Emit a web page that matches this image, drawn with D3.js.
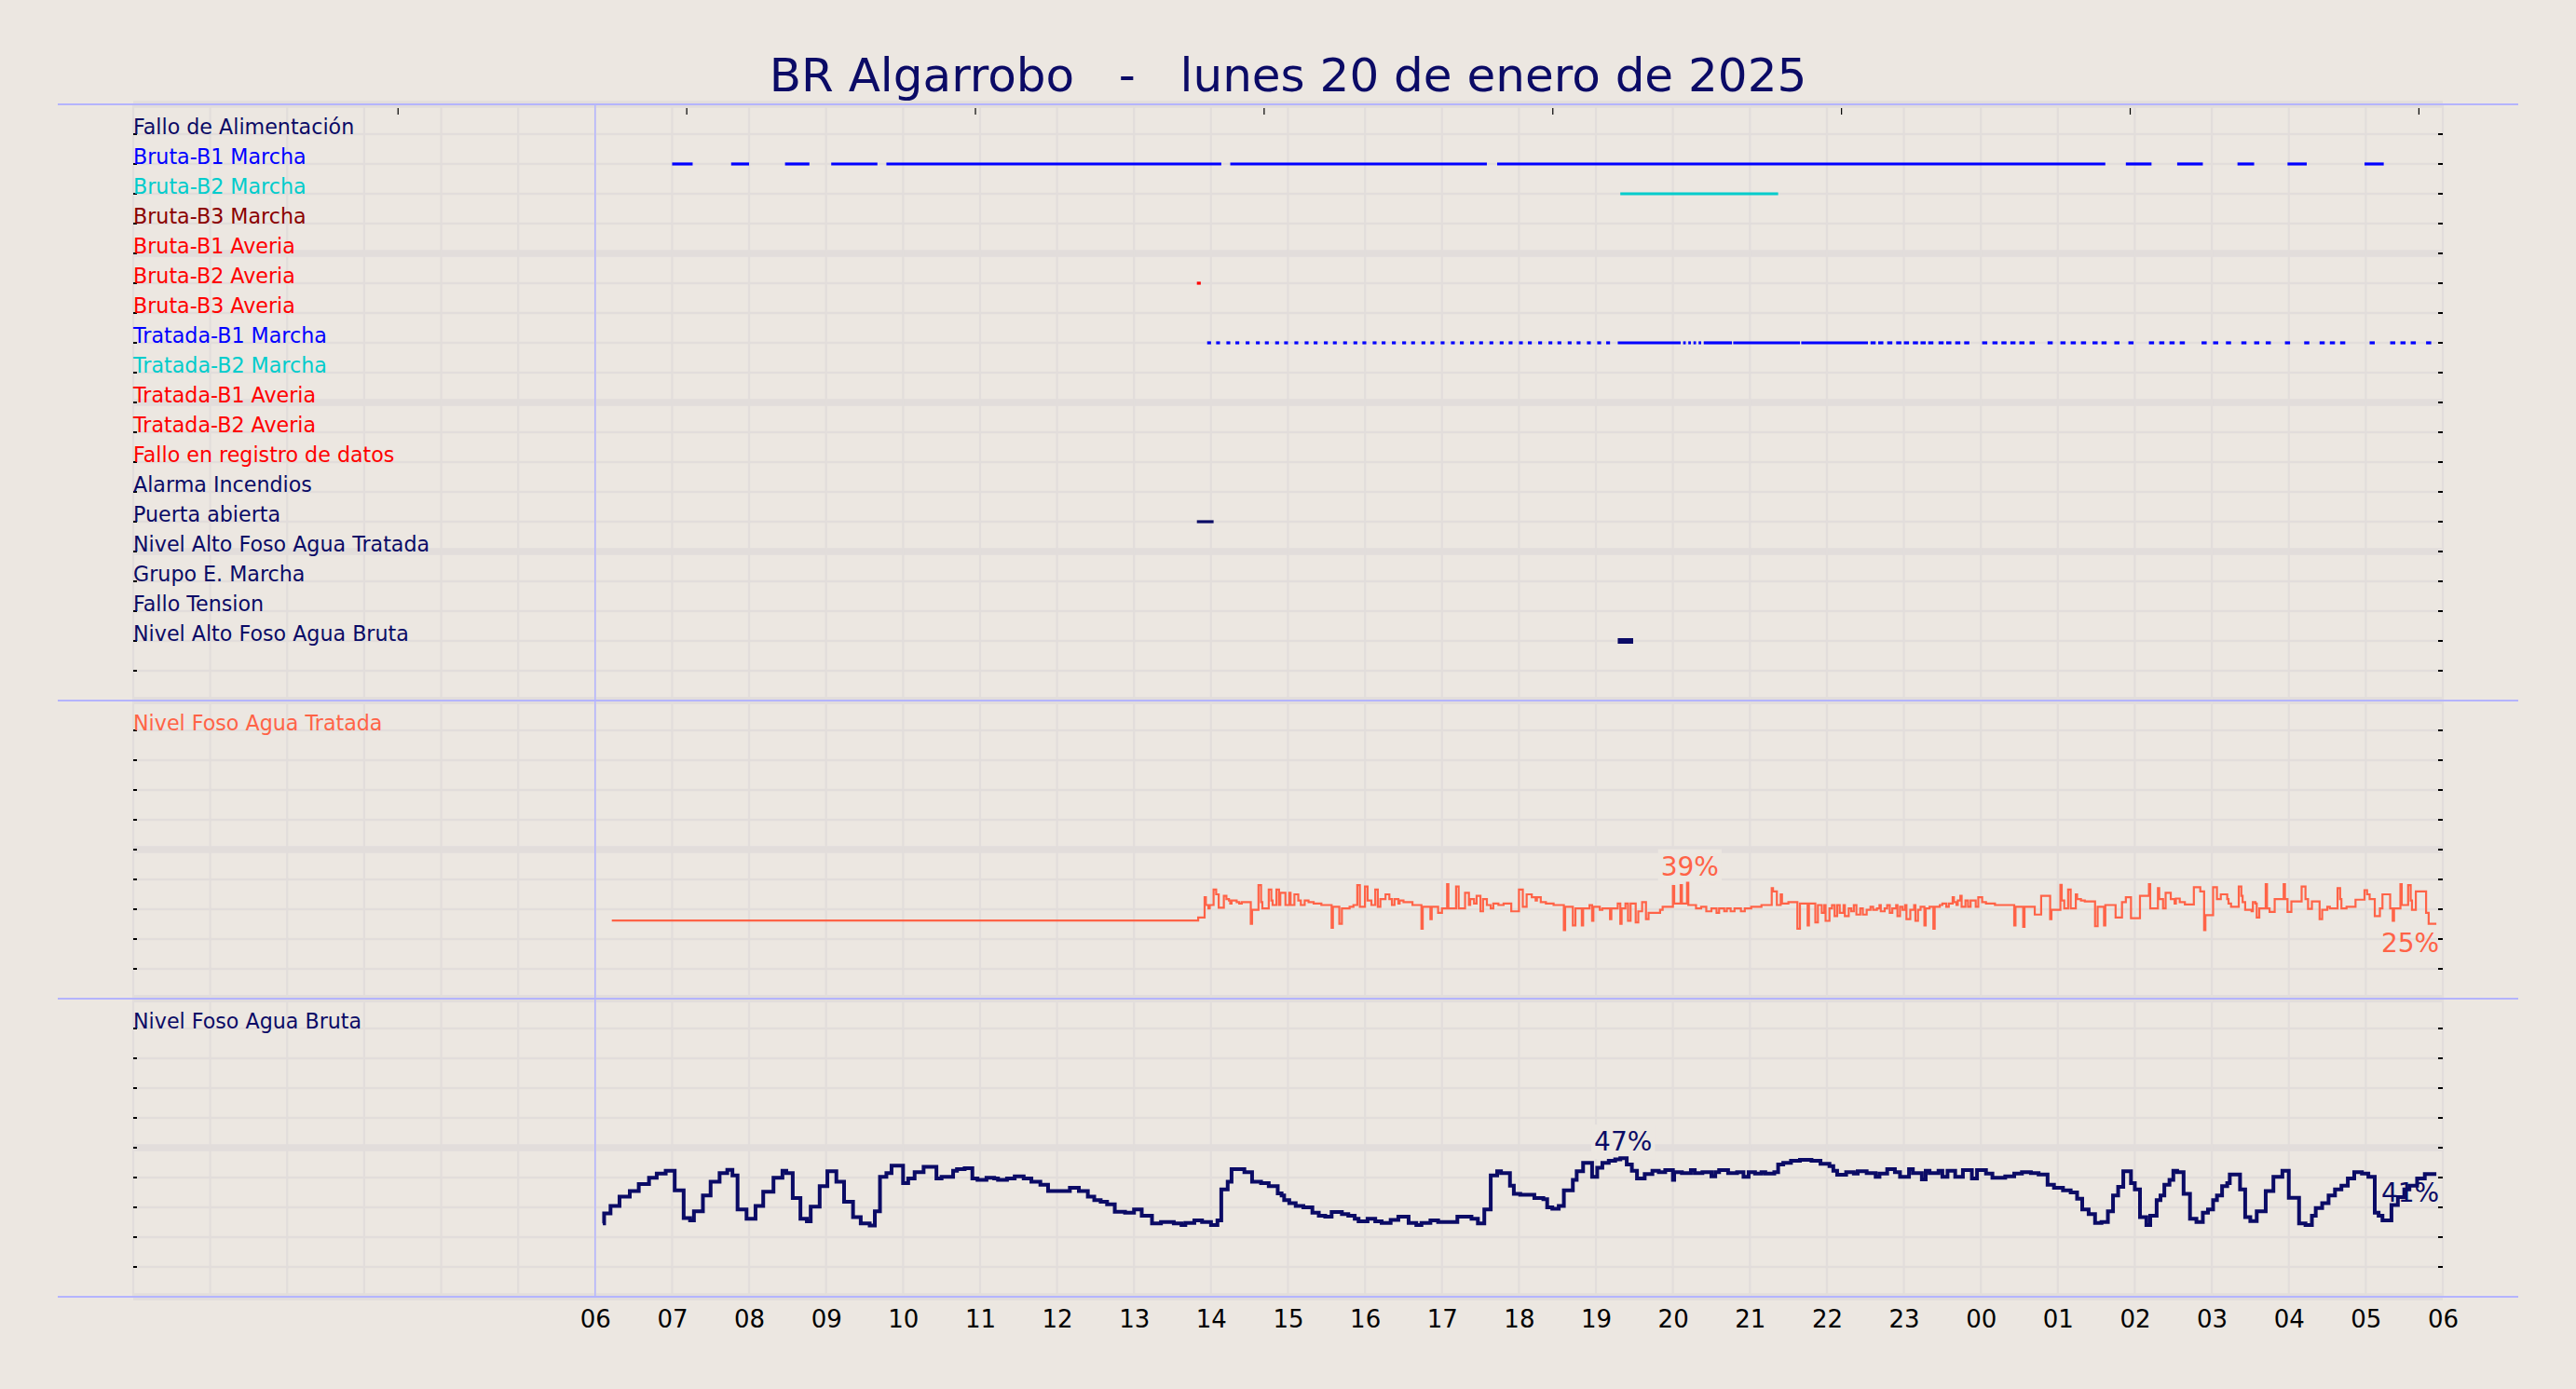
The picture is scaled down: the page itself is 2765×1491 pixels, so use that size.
<!DOCTYPE html>
<html><head><meta charset="utf-8">
<script src="https://cdn.jsdelivr.net/npm/d3@7"></script>
<style>
html,body{margin:0;padding:0;background:#ece7e1;}
svg{display:block;}
text{font-family:"DejaVu Sans";}
</style>
</head><body><svg id="chart"></svg>
<script>
// ---------------- DATA ----------------
const titleText = "BR Algarrobo   -   lunes 20 de enero de 2025";

const rowLabels = ["Fallo de Alimentación","Bruta-B1 Marcha","Bruta-B2 Marcha","Bruta-B3 Marcha",
  "Bruta-B1 Averia","Bruta-B2 Averia","Bruta-B3 Averia","Tratada-B1 Marcha","Tratada-B2 Marcha",
  "Tratada-B1 Averia","Tratada-B2 Averia","Fallo en registro de datos","Alarma Incendios",
  "Puerta abierta","Nivel Alto Foso Agua Tratada","Grupo E. Marcha","Fallo Tension","Nivel Alto Foso Agua Bruta"];
const rowColors = ["#0b0b66","#0000ff","#00cccc","#8b0000","#ff0000","#ff0000","#ff0000","#0000ff","#00cccc",
  "#ff0000","#ff0000","#ff0000","#0b0b66","#0b0b66","#0b0b66","#0b0b66","#0b0b66","#0b0b66"];

const hourLabels = ["06","07","08","09","10","11","12","13","14","15","16","17","18","19","20","21","22","23","00","01","02","03","04","05","06"];
const topTickHours = [3.44, 7.19, 10.94, 14.69, 18.44, 22.19, 25.94, 29.69];

// on/off intervals, minutes from 00:00 of the day
const brutaB1Marcha = [[420,436],[466,480],[508,527],[544,580],[587,848],[855,1055],[1063,1537],[1553,1573],[1593,1613],[1640,1653],[1679,1694],[1739,1754]];
const brutaB2Marcha = [[1159,1282]];
const brutaB2Averia = [[829,832]];
const tratadaB1Marcha = [[837,840],[844,847],[852,855],[859,862],[867,870],[875,878],[882,885],[890,893],[897,900],[905,908],
  [913,916],[920,923],[928,931],[935,938],[943,946],[951,954],[958,961],[966,969],[973,976],[981,984],[989,992],[996,999],
  [1004,1007],[1011,1014],[1019,1022],[1027,1030],[1034,1037],[1042,1045],[1049,1052],[1057,1060],[1065,1068],[1072,1075],
  [1080,1083],[1087,1090],[1095,1098],[1103,1106],[1110,1113],[1118,1121],[1125,1128],[1133,1136],[1141,1144],[1148,1151],
  [1157,1206],[1208,1210],[1212,1214],[1216,1218],[1220,1222],[1224,1246],[1247,1299],[1300,1352],
  [1354,1358],[1360,1364],[1367,1371],[1374,1378],[1380,1384],[1387,1391],[1393,1397],[1399,1403],[1407,1411],[1413,1417],
  [1420,1424],[1427,1431],[1441,1445],[1449,1453],[1456,1460],[1463,1467],[1470,1474],[1478,1482],[1492,1496],[1502,1506],
  [1510,1514],[1518,1522],[1527,1531],[1534,1538],[1544,1548],[1555,1559],[1571,1575],[1579,1583],[1587,1591],[1595,1599],
  [1612,1616],[1621,1625],[1631,1635],[1643,1647],[1653,1657],[1662,1666],[1677,1681],[1692,1696],[1704,1708],[1712,1716],
  [1720,1724],[1743,1747],[1759,1763],[1767,1771],[1775,1779],[1787,1791]];
const puertaAbierta = [[829,842]];
const nivelAltoBruta = [[1157,1169]];

// Nivel Foso Agua Tratada (%), step series: minute, value
const tratadaMin = [373,830,835,836,838,839,842,844,846,850,852,854,855,856,860,862,864,871,872,877,879,880,885,887,888,891,893,894,898,901,902,905,908,910,913,916,920,926,934,935,940,942,948,951,954,956,960,962,965,968,970,972,976,979,981,983,986,987,990,997,
 1004,1005,1011,1012,1017,1020,1024,1025,1031,1033,1038,1041,1042,1045,1047,1050,1052,1055,1058,1060,1064,1068,1074,1080,1083,1086,1090,1093,1094,1097,1101,1107,1115,1116,1122,1124,1129,1130,1135,1137,1138,1143,1145,1151,1152,1157,1159,1160,1163,1165,1167,1171,1173,1176,1179,1181,1190,1192,1200,1201,1206,1207,1211,1212,1218,1222,1226,1230,1234,1236,1240,1242,1245,1248,1253,1256,1261,1269,1277,1278,1281,1284,1285,1290,1297,1299,1305,1306,1311,1313,
 1316,1318,1319,1322,1324,1326,1328,1330,1333,1334,1337,1339,1341,1343,1346,1348,1351,1354,1356,1359,1361,1362,1365,1367,1369,1371,1374,1375,1377,1379,1381,1382,1385,1388,1389,1391,1393,1396,1397,1400,1403,1404,1408,1410,1413,1415,1418,1419,1421,1422,1424,1425,1428,1430,1432,1436,1438,1441,1444,1451,1466,1467,1473,1474,1482,1487,1494,1495,1502,1503,1505,1508,1510,1514,1515,1518,1521,1529,1531,1536,1537,1545,1550,1553,1557,1564,1571,1572,1578,1579,1582,1584,1588,1591,1592,1595,1599,1606,1611,1614,1615,1621,1624,1627,1632,1633,1635,1641,1643,1644,1646,1651,1652,1654,1655,1657,1662,1663,1665,1669,1676,1677,1679,1682,1690,1693,1695,1698,1704,1706,1710,1712,1718,1720,1721,1725,1732,1739,1741,1743,1747,1751,1753,1759,1761,1762,1767,1768,1773,1775,1776,1779,1787,1789,1795];
const tratadaVal = [26.2,27.2,34.0,31.4,30.3,31.4,36.6,35.0,30.5,34.5,33.4,32.9,31.9,32.9,32.4,31.9,32.4,25.1,29.8,38.1,32.4,30.3,36.6,32.9,31.4,36.6,31.4,35.5,31.4,35.5,31.4,35.0,32.9,31.4,32.9,32.4,31.9,31.4,23.8,30.8,25.1,30.3,30.8,31.4,38.1,30.8,37.6,32.9,31.4,36.6,30.8,33.4,35.0,33.4,31.4,33.4,31.9,32.9,32.4,31.4,
 23.5,30.8,26.7,30.8,28.8,30.3,38.4,30.3,37.6,30.3,35.5,31.4,33.4,31.9,34.5,29.3,33.4,31.4,30.3,31.9,31.4,31.9,29.3,36.6,30.8,35.0,34.0,32.9,34.0,32.4,31.9,31.4,23.0,30.8,24.6,30.3,24.6,30.3,31.4,26.1,30.8,29.8,30.3,26.7,30.3,31.9,25.1,30.3,31.9,26.1,31.9,25.6,29.3,32.4,26.7,28.8,29.8,30.8,37.8,31.9,38.1,31.9,38.9,31.4,30.3,30.8,29.3,30.3,28.8,30.3,29.3,30.3,29.3,30.3,29.3,30.3,30.8,31.4,37.1,36.0,31.4,35.0,31.9,32.4,23.5,31.9,24.6,31.9,25.6,31.4,
 28.8,31.4,26.1,30.3,31.4,27.7,31.4,28.8,31.4,27.7,30.3,29.3,31.4,28.2,30.3,28.2,29.8,30.8,29.8,30.3,31.4,29.3,30.3,31.4,28.8,30.3,31.4,27.7,30.8,29.8,31.4,26.7,29.8,31.4,26.1,29.8,30.8,24.6,30.3,30.8,23.5,30.8,31.4,31.9,30.8,31.9,34.0,32.4,31.4,32.9,34.5,30.8,32.9,30.8,32.9,30.8,34.0,32.4,31.9,31.4,24.6,30.8,24.1,30.8,28.2,34.5,26.7,29.8,38.2,32.9,30.3,36.6,30.3,35.0,33.4,32.9,32.6,24.3,30.8,24.6,31.4,27.2,32.4,34.0,27.0,34.5,38.4,30.3,37.1,33.4,30.3,35.5,33.4,31.9,33.6,32.4,31.6,37.4,36.0,23.0,28.0,37.4,33.4,35.0,33.4,31.9,30.8,37.6,34.5,32.4,29.8,29.3,32.4,31.9,27.2,30.3,38.4,30.3,29.1,33.4,38.4,33.4,29.1,32.6,37.6,33.4,30.1,32.6,26.7,29.8,30.8,30.3,37.1,33.4,30.3,30.8,33.2,36.4,35.0,33.4,27.7,30.3,35.0,30.3,26.1,30.3,38.4,31.4,38.1,32.9,29.8,36.0,28.8,25.1,25.1];

// Nivel Foso Agua Bruta (%), step series: minute, value
const brutaMin = [366,367,372,379,387,394,402,408,415,422,429,434,437,444,450,457,463,467,471,478,485,491,499,506,509,514,520,525,528,535,541,548,554,561,567,574,578,582,587,591,600,604,609,616,626,630,639,642,648,654,658,665,671,674,681,687,694,700,707,713,730,737,744,749,754,759,765,773,780,786,794,801,811,817,820,827,833,840,845,848,853,856,866,872,879,885,892,895,
 897,901,906,912,919,924,929,934,942,947,952,955,962,968,973,980,986,994,1000,1004,1011,1017,1032,1043,1048,1053,1058,1063,1066,1073,1076,1081,1092,1099,1102,1106,1111,1115,1122,1125,1130,1137,1141,1145,1150,1155,1159,1164,1168,1172,1178,1184,1189,1194,1200,1201,1207,1214,1217,1223,1230,1233,1236,1243,1250,1255,1259,1264,1269,1272,1279,1282,1286,1292,1299,1308,1315,1322,1325,1328,1335,1341,1344,1351,1358,1361,1367,1373,1377,1384,1387,1394,1397,1400,1407,1410,1414,1420,1426,1433,1437,1444,1449,1459,1466,1472,1479,1485,1492,1497,1504,1510,1515,1519,1524,1529,1534,1539,1543,1547,1551,1557,1560,1564,1569,1572,1577,1580,1583,1587,1590,1593,1598,1603,1608,1613,1617,1621,1624,1628,1632,1634,1642,1646,1650,1655,1662,1668,1675,1680,1688,1693,1698,1701,1706,1711,1716,1721,1726,1731,1737,1742,1747,1750,1753,1760,1765,1770,1774,1780,1786,1795];
const brutaVal = [24.6,28.0,30.5,33.6,35.5,37.8,39.9,41.3,42.3,35.7,26.4,25.6,28.7,34.0,38.6,41.5,42.6,40.7,29.3,26.2,30.5,35.2,39.9,42.3,41.5,33.1,26.2,25.3,30.2,37.1,42.1,38.6,31.9,26.7,24.6,23.9,28.7,40.2,41.5,44.0,38.1,39.7,41.8,43.6,39.7,40.2,42.3,42.8,43.1,39.7,39.2,39.9,39.7,39.2,39.7,40.4,39.7,38.6,37.6,35.5,36.6,35.5,33.6,32.4,31.9,31.0,28.5,28.2,29.3,27.2,24.6,25.1,24.6,24.1,24.8,25.6,25.1,24.1,25.6,36.0,38.6,42.8,41.8,38.6,38.1,37.1,34.7,34.0,
 32.4,31.4,30.5,30.0,28.2,27.2,26.9,28.4,27.7,27.2,26.2,25.3,26.2,25.3,24.8,25.8,26.9,24.8,24.1,24.8,25.6,25.1,26.9,26.2,24.6,29.3,40.7,42.1,41.5,37.3,34.5,34.2,33.1,32.7,30.0,29.5,30.5,35.7,39.2,42.1,44.9,40.2,43.3,44.9,45.6,46.1,46.5,44.4,42.3,39.7,41.2,42.3,41.8,42.5,39.2,41.8,41.5,42.5,41.5,41.8,40.4,41.8,42.5,41.5,41.8,40.2,41.8,41.3,41.8,41.3,41.8,44.4,44.9,45.6,45.9,45.6,44.6,43.8,42.3,40.9,41.8,41.3,42.1,41.5,40.2,41.3,42.8,41.8,40.2,42.8,41.5,39.4,42.3,41.5,42.3,40.2,42.3,40.2,42.5,39.7,42.5,41.3,39.9,40.4,41.3,41.8,41.5,41.0,37.6,36.6,35.7,35.0,32.9,29.3,27.7,24.8,25.1,28.7,34.0,36.9,42.1,38.1,36.0,26.7,24.1,27.2,32.4,34.0,37.6,39.2,42.3,41.8,34.5,26.2,25.1,28.2,29.3,32.4,34.0,37.1,38.1,41.0,36.0,26.7,25.4,28.7,35.5,40.2,42.3,33.2,24.6,24.1,27.2,29.8,31.4,34.0,36.0,37.3,39.7,41.8,41.3,40.2,28.2,27.2,25.6,30.8,33.4,36.0,37.3,39.7,41.2,41.2];

// ---------------- DRAWING ----------------
const W = 2765, H = 1491;
const BG = "#ece7e1", GRID = "#e2dddb", SEP = "#b4b4ff", NAVY = "#0b0b66", TOMATO = "#ff6347";
const svg = d3.select("#chart").attr("width", W).attr("height", H);
svg.append("rect").attr("width", W).attr("height", H).attr("fill", BG);

const x = d3.scaleLinear().domain([0, 1800]).range([143, 2622]);
const yTop = d3.scaleLinear().domain([0, 20]).range([752, 112]);
const yMid = d3.scaleLinear().domain([0, 100]).range([1072, 752]);
const yBot = d3.scaleLinear().domain([0, 100]).range([1392, 1072]);
const X0 = x.range()[0], X1 = x.range()[1];

const grid = svg.append("g");
function hgrid(scale, vals, isMajor) {
  grid.selectAll(null).data(vals).enter().append("line")
    .attr("x1", X0).attr("x2", X1)
    .attr("y1", d => scale(d)).attr("y2", d => scale(d))
    .attr("stroke", GRID).attr("stroke-width", d => isMajor(d) ? 7.7 : 2.7);
}
hgrid(yTop, d3.range(0, 21), d => d % 5 === 0);
hgrid(yMid, d3.range(0, 101, 10), d => d % 50 === 0);
hgrid(yBot, d3.range(0, 101, 10), d => d % 50 === 0);
grid.selectAll(null).data(d3.range(0, 1801, 60)).enter().append("line")
  .attr("x1", d => x(d)).attr("x2", d => x(d))
  .attr("y1", yTop.range()[1]).attr("y2", yBot.range()[0])
  .attr("stroke", GRID).attr("stroke-width", 2.2);

function yticks(scale, vals) {
  const g = svg.append("g");
  g.selectAll(null).data(vals).enter().append("line")
    .attr("x1", X0).attr("x2", X0 + 4).attr("y1", d => scale(d)).attr("y2", d => scale(d))
    .attr("stroke", "#000").attr("stroke-width", 2);
  g.selectAll(null).data(vals).enter().append("line")
    .attr("x1", X1 - 5).attr("x2", X1).attr("y1", d => scale(d)).attr("y2", d => scale(d))
    .attr("stroke", "#000").attr("stroke-width", 2);
}
yticks(yTop, d3.range(1, 20));
yticks(yMid, d3.range(10, 100, 10));
yticks(yBot, d3.range(10, 100, 10));

svg.append("g").selectAll(null).data(topTickHours).enter().append("line")
  .attr("x1", d => x(d * 60)).attr("x2", d => x(d * 60))
  .attr("y1", yTop.range()[1] + 4).attr("y2", yTop.range()[1] + 11)
  .attr("stroke", "#000").attr("stroke-width", 1.2);

const sepG = svg.append("g");
sepG.selectAll(null).data([yTop(20), yTop(0), yMid(0), yBot(0)]).enter().append("line")
  .attr("x1", X0 - 81).attr("x2", X1 + 81).attr("y1", d => d).attr("y2", d => d)
  .attr("stroke", SEP).attr("stroke-width", 2);
sepG.append("line").attr("x1", x(360)).attr("x2", x(360))
  .attr("y1", yTop(20)).attr("y2", yBot(0)).attr("stroke", SEP).attr("stroke-width", 1.5);

const rowSegs = {"Bruta-B1 Marcha": brutaB1Marcha, "Bruta-B2 Marcha": brutaB2Marcha, "Bruta-B2 Averia": brutaB2Averia,
  "Tratada-B1 Marcha": tratadaB1Marcha, "Puerta abierta": puertaAbierta, "Nivel Alto Foso Agua Bruta": nivelAltoBruta};
const rows = rowLabels.map((l, i) => ({label: l, color: rowColors[i], row: 19 - i, segs: rowSegs[l] || []}));

svg.append("g").selectAll(null).data(rows).enter().append("text")
  .attr("x", X0).attr("y", d => yTop(d.row)).attr("font-size", 22.2).attr("fill", d => d.color).text(d => d.label);

const segG = svg.append("g");
rows.forEach(r => {
  segG.selectAll(null).data(r.segs).enter().append("line")
    .attr("x1", d => x(d[0])).attr("x2", d => x(d[1]))
    .attr("y1", yTop(r.row)).attr("y2", yTop(r.row))
    .attr("stroke", r.color).attr("stroke-width", r.label === "Nivel Alto Foso Agua Bruta" ? 6 : 3.2);
});

function levelPanel(yS, mins, vals, color, width, title) {
  const data = mins.map((m, i) => [m, vals[i]]);
  svg.append("text").attr("x", X0).attr("y", yS(90)).attr("font-size", 22.2).attr("fill", color).text(title);
  // max label with background box (drawn under the line)
  const mx = data.reduce((a, b) => b[1] > a[1] ? b : a);
  const g = svg.append("g");
  const t = g.append("text").attr("x", x(mx[0]) + 3).attr("y", yS(mx[1]) - 8)
    .attr("text-anchor", "middle").attr("font-size", 28).attr("fill", color)
    .text(Math.round(mx[1]) + "%");
  const bb = t.node().getBBox();
  g.insert("rect", "text").attr("x", bb.x - 3).attr("y", bb.y - 2).attr("width", bb.width + 6).attr("height", bb.height + 4)
    .attr("fill", BG);
  const last = data[data.length - 1];
  svg.append("text").attr("x", x(last[0]) + 3).attr("y", yS(last[1]) + 30)
    .attr("text-anchor", "end").attr("font-size", 28).attr("fill", color)
    .text(Math.round(last[1]) + "%");
  svg.append("path").datum(data)
    .attr("d", d3.line().x(d => x(d[0])).y(d => yS(d[1])).curve(d3.curveStepAfter))
    .attr("fill", "none").attr("stroke", color).attr("stroke-width", width);
}
levelPanel(yMid, tratadaMin, tratadaVal, TOMATO, 2.2, "Nivel Foso Agua Tratada");
levelPanel(yBot, brutaMin, brutaVal, NAVY, 4, "Nivel Foso Agua Bruta");

const xa = svg.append("g").attr("transform", `translate(0,${yBot(0)})`)
  .call(d3.axisBottom(x).tickValues(d3.range(360, 1801, 60)).tickSize(0).tickPadding(0)
    .tickFormat((d, i) => hourLabels[i]));
xa.select(".domain").remove();
xa.selectAll("text").attr("font-family", "DejaVu Sans").attr("font-size", 26).attr("fill", "#000")
  .attr("dy", null).attr("y", 33);

svg.append("text").attr("x", (X0 + X1) / 2).attr("y", 98).attr("text-anchor", "middle")
  .attr("font-size", 50).attr("fill", NAVY).style("white-space", "pre").text(titleText);
</script>
</body></html>
